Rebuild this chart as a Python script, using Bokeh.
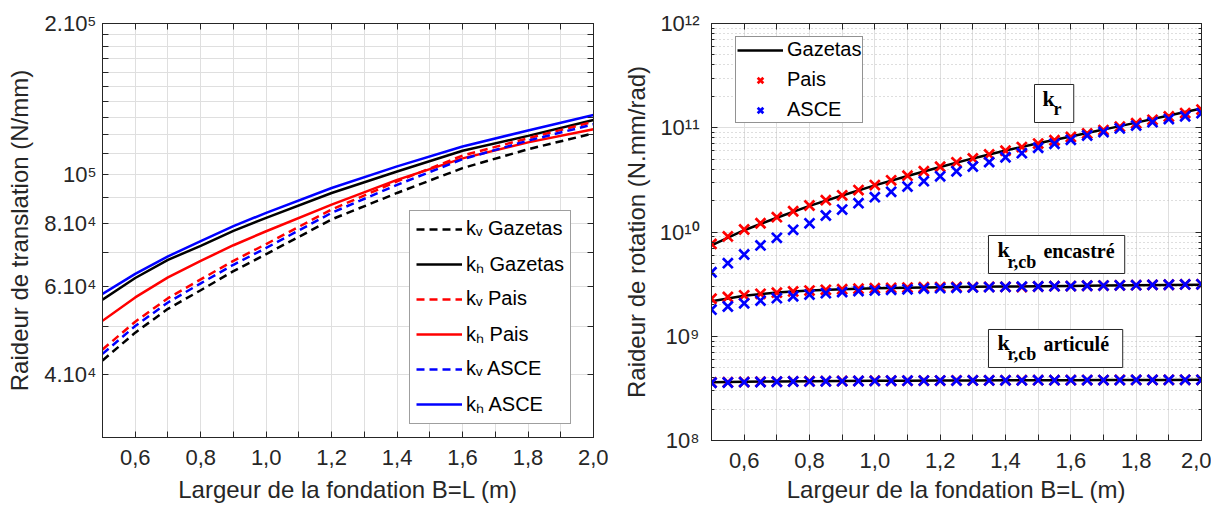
from bokeh.plotting import figure
from bokeh.models import (FixedTicker, CustomJSTickFormatter, Legend, LegendItem,
                          LinearAxis, LogAxis, Label, Range1d)
from bokeh.layouts import row
from bokeh.embed import file_html
from bokeh.resources import INLINE

# ---------------- data: left panel (translation stiffness, N/mm) ----------------
B_left = [0.5, 0.6, 0.7, 0.8, 0.9, 1.0, 1.2, 1.4, 1.6, 1.8, 2.0]
kv_gazetas = [4.27e4, 4.85e4, 5.41e4, 5.89e4, 6.43e4, 6.95e4, 8.15e4, 9.20e4, 1.031e5, 1.124e5, 1.209e5]
kh_gazetas = [5.64e4, 6.23e4, 6.77e4, 7.22e4, 7.73e4, 8.21e4, 9.20e4, 1.015e5, 1.116e5, 1.195e5, 1.285e5]
kv_pais = [4.49e4, 5.10e4, 5.68e4, 6.19e4, 6.74e4, 7.28e4, 8.53e4, 9.70e4, 1.092e5, 1.182e5, 1.275e5]
kh_pais = [5.12e4, 5.70e4, 6.25e4, 6.74e4, 7.24e4, 7.72e4, 8.72e4, 9.77e4, 1.078e5, 1.160e5, 1.232e5]
kv_asce = [4.40e4, 5.00e4, 5.57e4, 6.08e4, 6.62e4, 7.15e4, 8.40e4, 9.55e4, 1.074e5, 1.169e5, 1.260e5]
kh_asce = [5.79e4, 6.35e4, 6.88e4, 7.38e4, 7.90e4, 8.40e4, 9.41e4, 1.039e5, 1.138e5, 1.225e5, 1.315e5]

# ---------------- data: right panel (rotation stiffness, N.mm/rad) ----------------
B_line = [0.5, 0.6, 0.7, 0.8, 0.9, 1.0, 1.1, 1.2, 1.3, 1.4, 1.5, 1.6, 1.7, 1.8, 1.9, 2.0]
kr_gazetas = [7.45e9, 1.04e10, 1.37e10, 1.78e10, 2.24e10, 2.80e10, 3.45e10, 4.20e10,
              5.08e10, 6.05e10, 7.10e10, 8.25e10, 9.60e10, 1.12e11, 1.31e11, 1.53e11]
krcb_enc_gazetas = [2.17e9, 2.45e9, 2.63e9, 2.75e9, 2.83e9, 2.88e9, 2.92e9, 2.95e9,
                    2.98e9, 3.00e9, 3.02e9, 3.04e9, 3.06e9, 3.08e9, 3.10e9, 3.12e9]
krcb_art_gazetas = [3.62e8, 3.66e8, 3.69e8, 3.71e8, 3.73e8, 3.74e8, 3.75e8, 3.76e8,
                    3.77e8, 3.78e8, 3.79e8, 3.79e8, 3.80e8, 3.81e8, 3.81e8, 3.82e8]

B_pts = [0.5, 0.55, 0.6, 0.65, 0.7, 0.75, 0.8, 0.85, 0.9, 0.95, 1.0, 1.05, 1.1, 1.15, 1.2, 1.25,
         1.3, 1.35, 1.4, 1.45, 1.5, 1.55, 1.6, 1.65, 1.7, 1.75, 1.8, 1.85, 1.9, 1.95, 2.0]
kr_pais = [7.69e9, 9.06e9, 1.057e10, 1.213e10, 1.387e10, 1.581e10, 1.795e10, 2.018e10,
           2.249e10, 2.523e10, 2.818e10, 3.133e10, 3.467e10, 3.828e10, 4.227e10, 4.656e10,
           5.082e10, 5.546e10, 6.026e10, 6.531e10, 7.047e10, 7.586e10, 8.166e10, 8.810e10,
           9.506e10, 1.023e11, 1.104e11, 1.191e11, 1.282e11, 1.384e11, 1.493e11]
kr_asce = [4.11e9, 5.02e9, 6.08e9, 7.43e9, 8.79e9, 1.05e10, 1.21e10, 1.44e10,
           1.64e10, 1.89e10, 2.16e10, 2.43e10, 2.73e10, 3.07e10, 3.42e10, 3.82e10,
           4.25e10, 4.68e10, 5.21e10, 5.70e10, 6.43e10, 7.02e10, 7.66e10, 8.43e10,
           9.10e10, 9.85e10, 1.05e11, 1.13e11, 1.21e11, 1.29e11, 1.38e11]
krcb_enc_pais = [2.29e9, 2.38e9, 2.47e9, 2.55e9, 2.62e9, 2.69e9, 2.74e9, 2.79e9,
                 2.83e9, 2.86e9, 2.89e9, 2.91e9, 2.93e9, 2.95e9, 2.96e9, 2.97e9,
                 2.96e9, 2.97e9, 2.98e9, 2.96e9, 3.00e9, 3.02e9, 3.03e9, 3.05e9,
                 3.06e9, 3.08e9, 3.09e9, 3.11e9, 3.12e9, 3.14e9, 3.15e9]
krcb_enc_asce = [1.80e9, 1.93e9, 2.07e9, 2.20e9, 2.32e9, 2.42e9, 2.51e9, 2.59e9,
                 2.65e9, 2.71e9, 2.75e9, 2.79e9, 2.82e9, 2.87e9, 2.89e9, 2.92e9,
                 2.94e9, 2.96e9, 2.97e9, 2.99e9, 3.00e9, 3.02e9, 3.03e9, 3.05e9,
                 3.06e9, 3.08e9, 3.09e9, 3.11e9, 3.12e9, 3.14e9, 3.15e9]
krcb_art_pais = [3.60e8, 3.62e8, 3.64e8, 3.66e8, 3.67e8, 3.69e8, 3.70e8, 3.71e8,
                 3.72e8, 3.73e8, 3.74e8, 3.74e8, 3.75e8, 3.76e8, 3.76e8, 3.77e8,
                 3.77e8, 3.78e8, 3.78e8, 3.79e8, 3.79e8, 3.79e8, 3.80e8, 3.80e8,
                 3.80e8, 3.81e8, 3.81e8, 3.81e8, 3.82e8, 3.82e8, 3.82e8]
krcb_art_asce = [3.58e8, 3.60e8, 3.63e8, 3.64e8, 3.66e8, 3.68e8, 3.69e8, 3.70e8,
                 3.71e8, 3.72e8, 3.73e8, 3.74e8, 3.75e8, 3.75e8, 3.76e8, 3.76e8,
                 3.77e8, 3.77e8, 3.78e8, 3.78e8, 3.79e8, 3.79e8, 3.79e8, 3.80e8,
                 3.80e8, 3.80e8, 3.81e8, 3.81e8, 3.81e8, 3.82e8, 3.82e8]

# ---------------- ticks ----------------
x_ticks = [0.6, 0.8, 1.0, 1.2, 1.4, 1.6, 1.8, 2.0]
x_minor = [0.5, 0.7, 0.9, 1.1, 1.3, 1.5, 1.7, 1.9]
left_y_ticks = [4e4, 6e4, 8e4, 1e5, 2e5]
left_y_minor = [3e4, 5e4, 7e4, 9e4] + [m * 1e4 for m in range(11, 20)]
right_y_ticks = [1e8, 1e9, 1e10, 1e11, 1e12]
right_y_minor = [m * 10 ** e for e in (8, 9, 10, 11) for m in range(2, 10)]

FONT = "Liberation Sans"
AX_COLOR = "#262626"

x_fmt_code = "return tick.toFixed(1).replace('.', ',');"
pow_fmt_code = """
const sup = {"0":"\u2070","1":"\u00b9","2":"\u00b2","3":"\u00b3","4":"\u2074",
             "5":"\u2075","6":"\u2076","7":"\u2077","8":"\u2078","9":"\u2079"};
const e = Math.floor(Math.log10(tick) + 1e-9);
const m = Math.round(tick / Math.pow(10, e));
const es = String(e).split("").map(c => sup[c]).join("");
return (m === 1 ? "10" : m + ".10") + es;
"""
empty_code = "return '';"


def style_axis(ax, tick_len=6, minor_len=6):
    ax.major_label_text_font = FONT
    ax.major_label_text_font_size = "22px"
    ax.major_label_text_color = AX_COLOR
    ax.axis_label_text_font = FONT
    ax.axis_label_text_font_size = "24px"
    ax.axis_label_text_font_style = "normal"
    ax.axis_label_text_color = AX_COLOR
    ax.axis_line_color = AX_COLOR
    ax.major_tick_line_color = AX_COLOR
    ax.minor_tick_line_color = AX_COLOR
    ax.major_tick_in = tick_len
    ax.major_tick_out = 0
    ax.minor_tick_in = minor_len
    ax.minor_tick_out = 0


def add_mirror_axes(p, xticker, yticker, minor_len):
    top = LinearAxis(ticker=xticker, formatter=CustomJSTickFormatter(code=empty_code),
                     major_label_standoff=0)
    style_axis(top, 6, 6)
    p.add_layout(top, "above")
    right = LogAxis(ticker=yticker, formatter=CustomJSTickFormatter(code=empty_code),
                    major_label_standoff=0)
    style_axis(right, 6, minor_len)
    p.add_layout(right, "right")


# ======================= LEFT FIGURE =======================
p1 = figure(frame_width=491, frame_height=414, x_range=Range1d(0.5, 2.0),
            y_range=Range1d(3e4, 2e5), y_axis_type="log",
            output_backend="svg", toolbar_location=None,
            min_border_left=102, min_border_top=23, min_border_right=15, min_border_bottom=0,
            outline_line_color=AX_COLOR, background_fill_color="white")

xt1 = FixedTicker(ticks=x_ticks, minor_ticks=x_minor)
yt1 = FixedTicker(ticks=left_y_ticks, minor_ticks=left_y_minor)
p1.xaxis.ticker = xt1
p1.yaxis.ticker = yt1
p1.xaxis.formatter = CustomJSTickFormatter(code=x_fmt_code)
p1.yaxis.formatter = CustomJSTickFormatter(code=pow_fmt_code)
p1.xaxis.axis_label = "Largeur de la fondation B=L (m)"
p1.yaxis.axis_label = "Raideur de translation (N/mm)"
for ax in p1.xaxis + p1.yaxis:
    style_axis(ax)
p1.xaxis.major_label_standoff = 12
p1.xaxis.axis_label_standoff = 8
p1.yaxis.major_label_standoff = 6
p1.yaxis.axis_label_standoff = 8

GRID = "#dfdfdf"
for g in (p1.xgrid, p1.ygrid):
    g.grid_line_color = GRID
    g.minor_grid_line_color = GRID
    g.grid_line_width = 1
    g.minor_grid_line_width = 1
add_mirror_axes(p1, xt1, yt1, 6)

LW = 2.5
DASH = "8 5"
r_kvg = p1.line(B_left, kv_gazetas, color="black", line_width=LW, line_dash=DASH)
r_khg = p1.line(B_left, kh_gazetas, color="black", line_width=LW)
r_kvp = p1.line(B_left, kv_pais, color="red", line_width=LW, line_dash=DASH)
r_khp = p1.line(B_left, kh_pais, color="red", line_width=LW)
r_kva = p1.line(B_left, kv_asce, color="blue", line_width=LW, line_dash=DASH)
r_kha = p1.line(B_left, kh_asce, color="blue", line_width=LW)

leg1 = Legend(items=[
    LegendItem(label="k\u1d65 Gazetas", renderers=[r_kvg]),
    LegendItem(label="k\u2095 Gazetas", renderers=[r_khg]),
    LegendItem(label="k\u1d65 Pais", renderers=[r_kvp]),
    LegendItem(label="k\u2095 Pais", renderers=[r_khp]),
    LegendItem(label="k\u1d65 ASCE", renderers=[r_kva]),
    LegendItem(label="k\u2095 ASCE", renderers=[r_kha]),
], location=(307, 13), label_text_font=FONT, label_text_font_size="20px",
    label_text_color="black", glyph_width=46, glyph_height=20, label_height=20,
    spacing=10, padding=6, margin=0, label_standoff=4,
    border_line_color="#404040", border_line_width=1, background_fill_alpha=1.0)
p1.add_layout(leg1)

# ======================= RIGHT FIGURE =======================
p2 = figure(frame_width=490, frame_height=417, x_range=Range1d(0.5, 2.0),
            y_range=Range1d(1e8, 1e12), y_axis_type="log",
            output_backend="svg", toolbar_location=None,
            min_border_left=103, min_border_top=23, min_border_right=10, min_border_bottom=0,
            outline_line_color=AX_COLOR, background_fill_color="white")
xt2 = FixedTicker(ticks=x_ticks, minor_ticks=x_minor)
yt2 = FixedTicker(ticks=right_y_ticks, minor_ticks=right_y_minor)
p2.xaxis.ticker = xt2
p2.yaxis.ticker = yt2
p2.xaxis.formatter = CustomJSTickFormatter(code=x_fmt_code)
p2.yaxis.formatter = CustomJSTickFormatter(code=pow_fmt_code)
p2.xaxis.axis_label = "Largeur de la fondation B=L (m)"
p2.yaxis.axis_label = "Raideur de rotation (N.mm/rad)"
for ax in p2.xaxis:
    style_axis(ax)
for ax in p2.yaxis:
    style_axis(ax, 6, 3)
p2.xaxis.major_label_standoff = 12
p2.xaxis.axis_label_standoff = 5
p2.yaxis.major_label_standoff = 12
p2.yaxis.axis_label_standoff = 7

p2.xgrid.grid_line_color = GRID
p2.xgrid.minor_grid_line_color = GRID
p2.ygrid.grid_line_color = GRID
p2.ygrid.minor_grid_line_color = "#bdbdbd"
p2.ygrid.minor_grid_line_dash = "1 3"
add_mirror_axes(p2, xt2, yt2, 3)

MS = 14
MLW = 2.7
r_gaz = p2.line(B_line, kr_gazetas, color="black", line_width=LW)
p2.line(B_line, krcb_enc_gazetas, color="black", line_width=LW)
p2.line(B_line, krcb_art_gazetas, color="black", line_width=LW)
r_pais = p2.scatter(B_pts, kr_pais, marker="x", size=MS, line_width=MLW, color="red")
p2.scatter(B_pts, krcb_enc_pais, marker="x", size=MS, line_width=MLW, color="red")
p2.scatter(B_pts, krcb_art_pais, marker="x", size=MS, line_width=MLW, color="red")
r_asce = p2.scatter(B_pts, kr_asce, marker="x", size=MS, line_width=MLW, color="blue")
p2.scatter(B_pts, krcb_enc_asce, marker="x", size=MS, line_width=MLW, color="blue")
p2.scatter(B_pts, krcb_art_asce, marker="x", size=MS, line_width=MLW, color="blue")

leg2 = Legend(items=[
    LegendItem(label="Gazetas", renderers=[r_gaz]),
    LegendItem(label="Pais", renderers=[r_pais]),
    LegendItem(label="ASCE", renderers=[r_asce]),
], location=(24, 317), label_text_font=FONT, label_text_font_size="20px",
    label_text_color="black", glyph_width=46, glyph_height=20, label_height=20,
    spacing=7, padding=1, margin=0, label_standoff=4,
    border_line_color=AX_COLOR, border_line_width=1, background_fill_alpha=1.0)
p2.add_layout(leg2)

# ---- boxed annotations (k_r, k_r,cb encastre, k_r,cb articule) ----
SERIF = "Liberation Serif"


def note_text(x, y, text, size):
    p2.add_layout(Label(x=x, y=y, text=text, text_font=SERIF, text_font_style="bold",
                        text_font_size=size, text_baseline="middle", text_align="left",
                        text_color="black"))


def boxed_k(x, y, pad):
    p2.add_layout(Label(x=x, y=y, text="k", text_font=SERIF, text_font_style="bold",
                        text_font_size="22px", text_baseline="middle", text_align="left",
                        text_color="black",
                        background_fill_color="white", background_fill_alpha=1.0,
                        border_line_color=AX_COLOR, border_line_width=1, padding=pad))


# k_r
boxed_k(1.4888, 1.709e11, dict(left=8, right=19, top=2, bottom=11))
note_text(1.5469, 1.50e11, "r", "18px")
# k_r,cb encastré
boxed_k(1.3479, 6.085e9, dict(left=9, right=115, top=2, bottom=11))
note_text(1.4061, 5.11e9, "r,cb", "18px")
note_text(1.5163, 6.61e9, "encastré", "20px")
# k_r,cb articulé
boxed_k(1.3479, 7.63e8, dict(left=9, right=113, top=1, bottom=12))
note_text(1.4061, 6.70e8, "r,cb", "18px")
note_text(1.5163, 8.48e8, "articulé", "20px")

layout = row(p1, p2)
open("out.html", "w").write(file_html(layout, INLINE))
